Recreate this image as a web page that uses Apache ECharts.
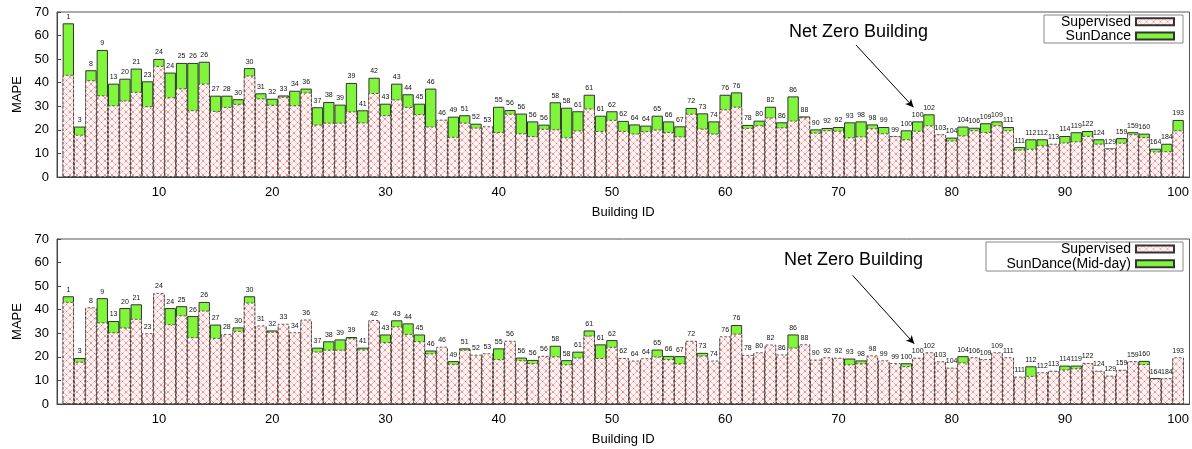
<!DOCTYPE html>
<html><head><meta charset="utf-8">
<script src="https://cdn.jsdelivr.net/npm/echarts@6/dist/echarts.min.js"></script>
<style>html,body{margin:0;padding:0;background:#fff}#c{width:1192px;height:449px}</style>
</head><body><div id="c"></div>
<script>
// Building IDs printed above each bar (slots 2..100 on the x axis)
const buildingIds = [1,3,8,9,13,20,21,23,24,24,
  25,26,26,27,28,30,30,31,32,33,
  34,36,37,38,39,39,41,42,43,43,
  44,45,46,46,49,51,52,53,55,56,
  56,56,56,58,58,61,61,61,62,62,
  64,64,65,66,67,72,73,74,76,76,
  78,80,82,86,86,88,90,92,92,93,
  98,98,99,99,100,100,102,103,104,104,
  106,109,109,111,111,112,112,113,114,119,
  122,124,129,159,159,160,164,184,193];

const supervised = [43.3,17.9,41,34.6,30.4,32.4,36.1,30,47.1,33.8,
  37.6,28.3,39.6,28,29.7,31,43,33.3,30.6,34,
  30.4,35.8,22.2,23,23,27.8,23.1,35.6,26.2,32.9,
  29.7,26.6,21.4,24.3,17,23,20.9,21.5,19,26.8,
  18.5,17.3,20.4,20.2,16.8,19.7,29,19.5,24.2,19.5,
  18.4,19.4,20.1,19,17.2,26.8,20.5,18.4,28.7,29.8,
  20.8,21.9,25.2,21,23.9,25.3,18.8,19.8,19.6,16.8,
  17.2,20.6,18.5,17.3,16,19.6,21.9,18.1,15.4,17.6,
  19.8,19,21.9,19.8,11.6,11.9,13.4,14.1,14.6,15.1,
  17.4,14.1,12,14.5,18.1,16.9,10.8,10.9,19.8];

const sunDance = [65.2,21.4,45.3,53.9,39.6,41.7,46,40.6,50.1,44.3,
  48.4,48.4,48.9,34.5,34.5,33,46.2,35.5,33.2,34.6,
  36.6,37.5,29.6,31.8,30.7,39.9,28.3,42.1,31.1,39.6,
  35.1,31.1,37.5,24,25.6,26.2,22.6,21,29.8,28.4,
  26.9,23.6,22.2,31.7,29.4,27.9,34.9,26,27.9,23.8,
  22.3,21.8,26,23.6,21.5,29.3,27,23.6,34.9,35.9,
  22.1,23.9,29.8,23.2,34.2,25.7,20.2,20.8,21.2,23.2,
  23.6,22.3,21.2,17.2,19.8,23.6,26.6,17.9,16.7,21.4,
  20.9,22.8,23.6,21.2,12.7,16,16,13.9,17.4,19,
  19.5,16,12.1,16.5,19,18.4,12,14.1,24.2];

const sunDanceMidday = [45.7,19.5,40.5,44.9,35.2,40.7,42.3,29.5,46.5,40.7,
  41.5,37.3,43.3,33.7,29.2,32.5,45.7,32.8,31.2,33.5,
  30,35.2,23.9,26.6,27.4,28.4,23.9,35,29.5,35.5,
  34.2,29.5,22.7,23.8,18.2,23.6,20.5,21.2,23.6,26.3,
  19.7,18.7,20,24.7,18.6,22.2,31.2,25.3,27.1,19.2,
  18,19,23.1,20.4,20.3,26.5,21.7,18,28.2,33.5,
  20.4,21.5,24.8,20.6,29.5,25,18.5,19.5,19.3,19.3,
  18.5,20.2,18.2,17,17.3,19.3,21.5,17.8,15.1,20.3,
  19.5,18.7,21.5,19.5,11.4,16,13.2,13.9,16.3,16.3,
  17.1,13.9,11.8,14.3,17.9,18.3,11,10.7,19.5];

const yTicks = [0,10,20,30,40,50,60,70];
const xTickLabels = [10,20,30,40,50,60,70,80,90,100];
const annotationText = 'Net Zero Building';
// arrow endpoints in data coordinates [x, y]
const arrowTop = [[71.55, 56.0], [76.63, 29.6]];
const arrowBottom = [[71.25, 54.6], [76.69, 25.6]];

function makePattern() {
  const s = 7;
  const c = document.createElement('canvas');
  c.width = s; c.height = s;
  const g = c.getContext('2d');
  g.fillStyle = '#fff3f3'; g.fillRect(0, 0, s, s);
  g.strokeStyle = 'rgba(235,70,70,0.75)';
  g.lineWidth = 0.9;
  g.setLineDash([1.2, 1]);
  g.beginPath();
  g.moveTo(0, 0); g.lineTo(s, s);
  g.moveTo(s, 0); g.lineTo(0, s);
  g.stroke();
  return c;
}
const pattern = { image: makePattern(), repeat: 'repeat' };
const FONT = 'Liberation Sans';
const GREEN = '#80f53c';

const chart = echarts.init(document.getElementById('c'), null, { renderer: 'canvas' });

function pairs(arr) { return arr.map((v, i) => [i + 2, v]); }

function xAxisCfg(gi) {
  return {
    gridIndex: gi, type: 'value', min: 1, max: 101,
    name: 'Building ID', nameLocation: 'middle', nameGap: 29,
    nameTextStyle: { fontSize: 13, color: '#000', fontFamily: FONT },
    axisLine: { show: true, lineStyle: { color: '#444', width: 1 } },
    axisTick: { show: true, inside: true, length: 4, customValues: xTickLabels, lineStyle: { color: '#444' } },
    axisLabel: { customValues: xTickLabels, fontSize: 13, color: '#000', margin: 9, fontFamily: FONT },
    splitLine: { show: false }
  };
}
function yAxisCfg(gi) {
  return {
    gridIndex: gi, type: 'value', min: yTicks[0], max: yTicks[yTicks.length - 1], interval: 10,
    name: 'MAPE', nameLocation: 'middle', nameGap: 33, nameRotate: 90,
    nameTextStyle: { fontSize: 13, color: '#000', fontFamily: FONT },
    axisLine: { show: true, lineStyle: { color: '#444', width: 1 } },
    axisTick: { show: true, inside: true, length: 4, lineStyle: { color: '#444' } },
    axisLabel: { fontSize: 13, color: '#000', margin: 8, fontFamily: FONT },
    splitLine: { show: false }
  };
}

function panelSeries(gi, sunName, sunArr, arrow) {
  return [
    {
      name: sunName, type: 'bar', xAxisIndex: gi, yAxisIndex: gi,
      data: pairs(sunArr), barWidth: 11.34, barGap: '-100%', z: 2,
      itemStyle: { color: GREEN, borderColor: '#333', borderWidth: 1 },
      emphasis: { disabled: true }, silent: true
    },
    {
      name: 'Supervised', type: 'bar', xAxisIndex: gi, yAxisIndex: gi,
      data: pairs(supervised), barWidth: 11.34, barGap: '-100%', z: 3,
      itemStyle: { color: pattern, borderColor: '#333', borderWidth: 0.8, borderType: [2.5, 2] },
      emphasis: { disabled: true }, silent: true,
      markLine: {
        silent: true, animation: false,
        symbol: ['none', 'arrow'], symbolSize: [6, 8],
        lineStyle: { color: '#000', width: 1, type: 'solid' },
        label: { show: false },
        data: [[{ coord: arrow[0] }, { coord: arrow[1] }]]
      }
    },
    {
      name: 'labels', type: 'bar', xAxisIndex: gi, yAxisIndex: gi,
      data: supervised.map((v, i) => [i + 2, Math.max(v, sunArr[i])]),
      barWidth: 11.34, barGap: '-100%', z: 4,
      itemStyle: { color: 'rgba(0,0,0,0)' },
      label: {
        show: true, position: 'top', distance: 3, fontSize: 7, color: '#111', fontFamily: FONT,
        formatter: p => String(buildingIds[p.dataIndex])
      },
      emphasis: { disabled: true }, silent: true
    }
  ];
}

const legendCommon = {
  orient: 'vertical', align: 'right', icon: 'rect', right: 17, padding: 0,
  itemWidth: 38, itemHeight: 7, selectedMode: false,
  textStyle: { fontSize: 14, color: '#000', lineHeight: 14, fontFamily: FONT }
};

const option = {
  animation: false,
  textStyle: { fontFamily: FONT },
  grid: [
    { left: 57, right: 1, top: 12, height: 165, show: true, borderColor: '#555', borderWidth: 1 },
    { left: 57, right: 1, top: 239, height: 165, show: true, borderColor: '#555', borderWidth: 1 }
  ],
  xAxis: [xAxisCfg(0), xAxisCfg(1)],
  yAxis: [yAxisCfg(0), yAxisCfg(1)],
  legend: [
    Object.assign({}, legendCommon, { data: ['Supervised', 'SunDance'], top: 14.7, itemGap: 0.3 }),
    Object.assign({}, legendCommon, { data: ['Supervised', 'SunDance(Mid-day)'], top: 242, itemGap: 0.7 })
  ],
  graphic: [
    { type: 'rect', shape: { x: 1044, y: 15, width: 139, height: 28 }, style: { fill: 'none', stroke: '#888', lineWidth: 1 }, z: 10 },
    { type: 'rect', shape: { x: 986, y: 242, width: 197, height: 29 }, style: { fill: 'none', stroke: '#888', lineWidth: 1 }, z: 10 },
    { type: 'text', x: 789, y: 32, style: { text: annotationText, font: '18px "Liberation Sans"', fill: '#000', verticalAlign: 'middle' }, z: 10 },
    { type: 'text', x: 784, y: 260, style: { text: annotationText, font: '18px "Liberation Sans"', fill: '#000', verticalAlign: 'middle' }, z: 10 }
  ],
  series: [].concat(
    panelSeries(0, 'SunDance', sunDance, arrowTop),
    panelSeries(1, 'SunDance(Mid-day)', sunDanceMidday, arrowBottom)
  )
};
chart.setOption(option);
</script></body></html>
